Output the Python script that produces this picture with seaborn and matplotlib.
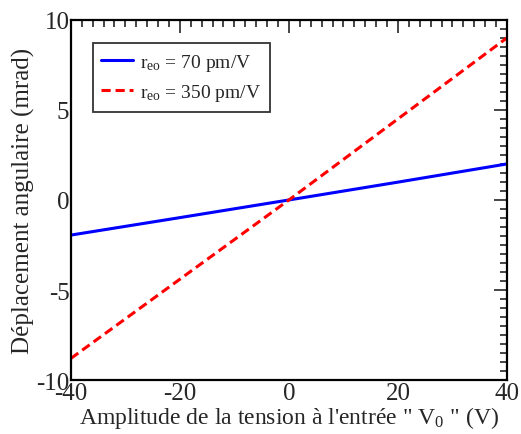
import numpy as np
import pandas as pd
import matplotlib
matplotlib.use("Agg")
import matplotlib.pyplot as plt
from matplotlib.ticker import MultipleLocator
import seaborn as sns

# tension d'entree (V) et deplacement angulaire (mrad)
tension = [-40, -20, 0, 20, 40]
dep_70 = [-1.95, -0.98, 0.0, 0.99, 2.0]
dep_350 = [-8.8, -4.4, 0.0, 4.5, 9.0]

sns.set_style("white")
plt.rcParams["font.family"] = ["Liberation Serif", "DejaVu Serif"]
plt.rcParams["mathtext.fontset"] = "custom"
plt.rcParams["mathtext.rm"] = "Liberation Serif"
plt.rcParams["mathtext.it"] = "Liberation Serif"
plt.rcParams["axes.unicode_minus"] = False

df70 = pd.DataFrame({"V": tension, "d": dep_70})
df350 = pd.DataFrame({"V": tension, "d": dep_350})

fig = plt.figure(figsize=(5.21, 4.35), dpi=100)
ax = fig.add_axes([0.136, 0.124, 0.837, 0.828])

sns.lineplot(data=df70, x="V", y="d", ax=ax, color="blue", lw=2.2,
             label=r"r$_{\rm eo}$ = 70 pm/V")
sns.lineplot(data=df350, x="V", y="d", ax=ax, color="red", lw=2.2,
             linestyle=(0, (3, 1.6)), label=r"r$_{\rm eo}$ = 350 pm/V")

ax.set_xlim(-40, 40)
ax.set_ylim(-10, 10)
ax.xaxis.set_major_locator(MultipleLocator(20))
ax.xaxis.set_minor_locator(MultipleLocator(2))
ax.yaxis.set_major_locator(MultipleLocator(5))
ax.yaxis.set_minor_locator(MultipleLocator(0.5))
ax.tick_params(which="both", direction="in", top=True, right=True,
               labelsize=18, width=1.2)
ax.tick_params(axis="x", pad=1.5)
ax.tick_params(axis="y", pad=1)
ax.tick_params(which="major", length=9.5)
ax.tick_params(which="minor", length=5)
for s in ax.spines.values():
    s.set_linewidth(1.6)
    s.set_color("black")

ax.set_xlabel("Amplitude de la tension à l'entrée \" V$_0$ \" (V)", fontsize=17, labelpad=0)
ax.set_ylabel("Déplacement angulaire (mrad)", fontsize=18, labelpad=1)

leg = ax.legend(loc="upper left", bbox_to_anchor=(0.05, 0.935), fontsize=14,
                frameon=True, fancybox=False, edgecolor="black",
                handlelength=1.6, handletextpad=0.4, borderpad=0.45,
                labelspacing=0.45, borderaxespad=0)
leg.get_frame().set_linewidth(1.3)

fig.savefig("out.png", dpi=100, facecolor="w")
